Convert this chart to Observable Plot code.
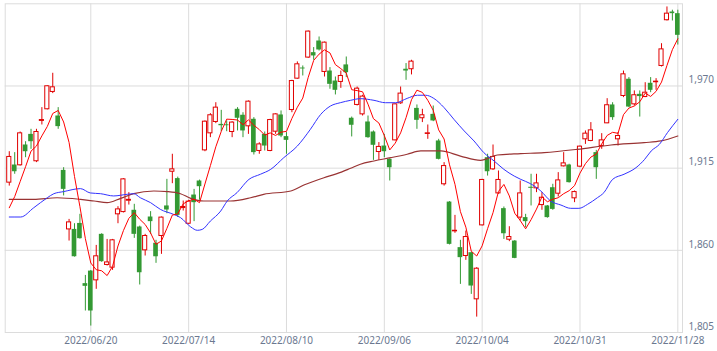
<!DOCTYPE html>
<html>
<head>
<meta charset="utf-8">
<script src="https://cdn.jsdelivr.net/npm/d3@7"></script>
<script src="https://cdn.jsdelivr.net/npm/@observablehq/plot@0.6"></script>
<style>
  html, body { margin: 0; padding: 0; background: #ffffff; }
  #chart svg { display: block; }
</style>
</head>
<body>
<div id="chart"></div>
<script>
// ---- Data ----
// x = trading-day index (0 = first candle)
const tickIndex  = [15, 33, 51, 69, 87, 105, 123];
const tickLabels = ["2022/06/20", "2022/07/14", "2022/08/10", "2022/09/06", "2022/10/04", "2022/10/31", "2022/11/28"];
const yTicks = [1805, 1860, 1915, 1970];

const open = [
  1905.3, 1917.1, 1916.9, 1930.5, 1937.6, 1919.6, 1946.6, 1954.4, 1966.0, 1949.9,
  1913.5, 1874.0, 1874.0, 1878.0, 1837.7, 1846.1, 1839.9, 1870.7, 1850.2, 1848.4,
  1884.1, 1885.6, 1893.2, 1886.8, 1875.6, 1860.0, 1882.3, 1864.7, 1869.6, 1889.7,
  1912.6, 1908.0, 1888.3, 1877.8, 1897.0, 1906.4, 1926.9, 1938.3, 1945.9, 1944.3,
  1944.0, 1939.2, 1954.4, 1950.4, 1943.0, 1947.7, 1926.5, 1937.6, 1926.5, 1939.4,
  1950.6, 1936.1, 1953.9, 1974.9, 1982.0, 1989.0, 1992.3, 2000.1, 1979.4, 1980.0,
  1973.3, 1972.7, 1984.1, 1948.4, 1957.3, 1951.0, 1945.9, 1939.2, 1925.8, 1929.8,
  1920.9, 1933.6, 1958.4, 1981.2, 1981.2, 1955.0, 1948.4, 1937.9, 1951.0, 1933.2,
  1904.2, 1892.3, 1872.7, 1861.8, 1856.2, 1858.4, 1827.2, 1876.7, 1922.0, 1914.2,
  1898.1, 1887.9, 1867.1, 1866.2, 1881.9, 1881.9, 1902.2, 1901.5, 1890.3, 1889.7,
  1901.9, 1897.9, 1916.2, 1917.1, 1894.8, 1916.0, 1934.3, 1933.2, 1925.4, 1929.8,
  1945.0, 1957.3, 1934.3, 1963.3, 1974.5, 1957.7, 1964.4, 1962.6, 1971.8, 1972.5,
  1983.4, 2014.0, 2019.5, 2018.4
];
const high = [
  1926.0, 1925.4, 1939.2, 1932.7, 1941.0, 1941.0, 1955.5, 1970.1, 1978.5, 1955.5,
  1915.3, 1880.7, 1877.8, 1884.1, 1843.2, 1846.5, 1863.3, 1871.1, 1867.3, 1867.3,
  1889.2, 1908.0, 1898.6, 1890.8, 1876.2, 1870.7, 1885.9, 1866.7, 1882.3, 1907.5,
  1924.3, 1909.0, 1893.0, 1893.5, 1900.8, 1907.0, 1946.6, 1951.5, 1958.8, 1953.7,
  1946.6, 1946.1, 1955.5, 1952.1, 1960.0, 1948.8, 1932.0, 1939.2, 1947.7, 1951.4,
  1953.3, 1938.8, 1973.8, 1986.1, 1983.4, 2006.8, 1995.7, 2002.8, 1999.4, 1982.3,
  1976.0, 1980.0, 1989.4, 1949.2, 1969.3, 1963.8, 1949.9, 1939.9, 1932.1, 1937.6,
  1921.3, 1958.0, 1969.3, 1985.0, 1987.2, 1957.3, 1954.4, 1943.9, 1956.6, 1934.3,
  1918.7, 1892.6, 1883.4, 1866.7, 1872.9, 1858.8, 1848.4, 1907.5, 1924.3, 1930.5,
  1913.1, 1889.0, 1875.8, 1866.5, 1906.4, 1884.1, 1910.9, 1910.9, 1898.6, 1890.0,
  1904.2, 1912.0, 1925.4, 1917.6, 1899.7, 1929.8, 1939.9, 1945.5, 1926.9, 1938.1,
  1961.5, 1958.8, 1938.8, 1980.0, 1975.6, 1966.7, 1966.7, 1972.2, 1975.6, 1974.9,
  1998.3, 2022.9, 2020.7, 2020.7
];
const low = [
  1903.0, 1910.9, 1916.4, 1922.0, 1927.6, 1918.7, 1943.9, 1954.0, 1964.9, 1941.0,
  1896.4, 1866.2, 1855.5, 1867.5, 1819.4, 1809.3, 1833.9, 1852.0, 1849.5, 1846.6,
  1877.8, 1885.0, 1890.3, 1868.0, 1836.8, 1856.2, 1870.7, 1851.3, 1857.3, 1884.5,
  1904.6, 1882.0, 1886.3, 1877.4, 1879.2, 1893.5, 1926.0, 1935.4, 1944.8, 1939.4,
  1939.4, 1935.4, 1939.9, 1935.4, 1937.6, 1923.8, 1924.3, 1926.5, 1926.0, 1937.6,
  1935.4, 1924.3, 1952.1, 1974.5, 1976.7, 1988.5, 1987.2, 1993.4, 1976.0, 1967.8,
  1964.0, 1968.4, 1975.6, 1935.9, 1956.6, 1949.9, 1935.0, 1920.2, 1920.2, 1922.0,
  1906.4, 1933.2, 1957.7, 1973.8, 1977.4, 1941.0, 1945.5, 1934.3, 1946.1, 1920.5,
  1903.0, 1863.6, 1871.4, 1837.2, 1853.3, 1830.5, 1815.3, 1876.3, 1909.7, 1913.5,
  1897.5, 1867.3, 1865.8, 1854.4, 1879.6, 1875.2, 1889.7, 1898.6, 1886.8, 1881.5,
  1886.8, 1895.7, 1915.8, 1905.0, 1891.9, 1915.3, 1930.9, 1932.7, 1907.5, 1927.6,
  1944.8, 1947.0, 1929.8, 1962.2, 1955.5, 1956.6, 1949.2, 1962.2, 1965.5, 1967.1,
  1982.7, 2013.5, 2013.5, 1997.4
];
const close = [
  1922.5, 1912.6, 1938.3, 1926.0, 1932.7, 1939.2, 1947.2, 1969.8, 1969.1, 1942.8,
  1900.8, 1878.7, 1855.7, 1867.8, 1835.9, 1819.4, 1856.0, 1852.4, 1851.9, 1866.7,
  1887.4, 1907.5, 1893.8, 1870.7, 1845.0, 1869.6, 1879.2, 1855.7, 1881.9, 1887.0,
  1914.2, 1883.4, 1889.0, 1892.6, 1891.9, 1902.6, 1946.1, 1950.4, 1955.5, 1943.4,
  1943.4, 1945.5, 1948.4, 1939.9, 1959.5, 1925.4, 1930.9, 1929.8, 1947.2, 1951.0,
  1936.5, 1933.6, 1973.3, 1984.5, 1981.4, 2006.4, 1990.1, 1994.1, 1999.0, 1971.1,
  1967.1, 1976.7, 1978.9, 1943.7, 1968.2, 1962.9, 1935.4, 1930.3, 1929.2, 1926.0,
  1915.3, 1957.7, 1964.9, 1980.0, 1986.3, 1947.0, 1950.4, 1938.3, 1946.6, 1920.9,
  1916.4, 1864.0, 1873.1, 1855.1, 1868.9, 1836.1, 1847.7, 1907.1, 1912.6, 1922.5,
  1907.1, 1871.1, 1868.9, 1854.6, 1898.1, 1879.2, 1901.5, 1904.8, 1895.2, 1881.9,
  1887.4, 1906.8, 1918.2, 1905.3, 1899.0, 1929.4, 1938.1, 1940.3, 1915.3, 1933.6,
  1957.1, 1948.8, 1936.5, 1977.8, 1955.9, 1963.8, 1962.9, 1965.5, 1967.1, 1972.9,
  1994.5, 2018.4, 2018.4, 2003.9
];

// short moving average (red), one value per candle
const maShort = [
  1888.5, 1896.0, 1906.0, 1916.0, 1926.4, 1929.8, 1936.6, 1942.9, 1951.6, 1953.6,
  1945.9, 1932.2, 1909.4, 1889.2, 1867.8, 1851.5, 1847.0, 1846.3, 1843.1, 1849.3,
  1862.9, 1873.2, 1881.4, 1885.2, 1880.8, 1877.3, 1871.6, 1864.0, 1866.3, 1874.7,
  1883.6, 1884.4, 1891.1, 1893.2, 1894.2, 1891.9, 1904.4, 1916.7, 1929.3, 1939.6,
  1947.8, 1947.6, 1947.2, 1944.1, 1947.3, 1943.7, 1940.8, 1937.1, 1938.6, 1936.9,
  1939.1, 1939.6, 1948.3, 1955.8, 1961.9, 1975.8, 1987.1, 1991.3, 1994.2, 1992.1,
  1984.3, 1981.6, 1978.6, 1967.5, 1966.9, 1966.1, 1957.8, 1948.1, 1945.2, 1936.8,
  1927.2, 1931.7, 1938.6, 1948.8, 1960.8, 1967.2, 1965.7, 1960.4, 1953.7, 1940.6,
  1934.5, 1917.2, 1904.2, 1885.9, 1875.5, 1859.4, 1856.2, 1863.0, 1874.5, 1885.2,
  1899.4, 1904.1, 1896.4, 1884.8, 1880.0, 1874.4, 1880.5, 1887.6, 1895.8, 1892.5,
  1894.2, 1895.2, 1897.9, 1899.9, 1903.3, 1911.7, 1918.0, 1922.4, 1924.4, 1931.3,
  1936.9, 1939.0, 1938.3, 1950.8, 1955.2, 1956.6, 1959.4, 1965.2, 1963.0, 1966.4,
  1972.6, 1983.7, 1994.3, 2001.6
];

// medium moving average (blue), sampled points
const maMidX = [0, 2.1, 4.5, 7, 8.2, 10, 13.1, 14.9, 16.8, 19.2, 21.7, 22.9, 24.1, 26, 27.8, 30.2,
  31.5, 33.4, 34.6, 35.5, 37, 38.9, 40.1, 41.9, 44.1, 46.2, 48.1, 50.5, 53, 55.4, 57.3, 59.1, 60.9, 62.8,
  64.6, 67.1, 69.2, 71.1, 73.2, 75.1, 76.6, 78.1, 80, 81.8, 83.7, 85.5, 87.3, 89.2, 91, 92.9,
  94.1, 95.9, 97.8, 99.6, 101.5, 103.3, 104.8, 106.4, 108.2, 109.4, 111, 113.1, 115.3, 116.9, 118.1, 119.6, 121.1, 123];
const maMidY = [1882.3, 1882.3, 1888.5, 1895.2, 1897.9, 1899.3, 1901.3, 1898.4, 1897.9, 1896.4, 1897.5, 1897.9, 1895.2, 1891.9, 1887.4, 1884.1,
  1881.9, 1875.6, 1873.4, 1874.0, 1879.6, 1886.3, 1893.0, 1898.6, 1907.5, 1910.9, 1914.2, 1922.0, 1929.8, 1941.0, 1951.0, 1956.6, 1958.8, 1960.4,
  1961.5, 1960.4, 1958.8, 1958.8, 1961.7, 1963.8, 1963.8, 1961.7, 1955.5, 1947.7, 1939.9, 1933.2, 1925.4, 1919.8, 1914.2, 1909.7,
  1907.5, 1904.6, 1899.7, 1893.0, 1890.3, 1888.1, 1888.1, 1890.8, 1895.2, 1898.6, 1907.5, 1910.9, 1915.3, 1920.9, 1926.5, 1930.9, 1938.8, 1947.7];

// long moving average (dark red), sampled points
const maLongX = [0, 4.5, 8.8, 13.1, 15.6, 18, 20.5, 22.9, 26.6, 29.1,
  31.5, 33.4, 35.8, 40.7, 44.4, 46.8, 51.8, 54.2, 57.9, 60.3, 62.8,
  64.6, 67.1, 70.2, 73.2, 75.7, 79.4, 83, 86.7, 89.8, 94.1,
  98.4, 104.5, 110.7, 116.8, 119.9, 123];
const maLongY = [1894.1, 1894.1, 1895.2, 1894.1, 1893.0, 1891.9, 1894.8, 1897.9, 1899.7, 1899.3,
  1897.9, 1894.8, 1893.0, 1893.0, 1895.2, 1897.5, 1899.7, 1903.7, 1908.6, 1911.3, 1914.9,
  1917.6, 1919.8, 1922.0, 1924.3, 1926.5, 1926.5, 1923.1, 1920.2, 1923.8, 1924.7,
  1925.4, 1927.6, 1930.5, 1932.1, 1933.2, 1936.5];

// ---- Build tables for the library ----
const candles = open.map((o, i) => ({ i, open: o, high: high[i], low: low[i], close: close[i], up: close[i] >= o }));
const upCandles = candles.filter(d => d.up);
const downCandles = candles.filter(d => !d.up);
const shortLine = maShort.map((v, i) => ({ x: i, y: v }));
const midLine = maMidX.map((x, k) => ({ x, y: maMidY[k] }));
const longLine = maLongX.map((x, k) => ({ x, y: maLongY[k] }));
const labelOf = new Map(tickIndex.map((t, k) => [t, tickLabels[k]]));

const RED = "#e00000";
const GREEN = "#339933";
const GRID = "#dcdcdc";

const chart = Plot.plot({
  width: 717,
  height: 351,
  marginLeft: 4.7,
  marginRight: 35,
  marginTop: 3.3,
  marginBottom: 19,
  style: { fontFamily: "'Noto Sans', sans-serif", fontSize: "10px", color: "#6b7890", background: "#ffffff", overflow: "visible" },
  x: { type: "linear", domain: [-0.75, 123.86] },
  y: { domain: [1805, 2025] },
  marks: [
    Plot.gridX(tickIndex, { stroke: GRID, strokeOpacity: 1 }),
    Plot.gridY(yTicks.slice(1), { stroke: GRID, strokeOpacity: 1 }),
    Plot.frame({ stroke: GRID }),
    Plot.ruleX(candles, { x: "i", y1: "low", y2: "high", stroke: d => d.up ? RED : GREEN, strokeWidth: 1 }),
    Plot.rect(downCandles, { x1: d => d.i - 0.43, x2: d => d.i + 0.43, y1: "open", y2: "close", fill: GREEN }),
    Plot.rect(upCandles, { x1: d => d.i - 0.38, x2: d => d.i + 0.38, y1: "open", y2: "close", fill: "#ffffff", stroke: RED, strokeWidth: 1 }),
    Plot.line(longLine, { x: "x", y: "y", stroke: "#993333", strokeWidth: 1.2, curve: "monotone-x" }),
    Plot.line(midLine, { x: "x", y: "y", stroke: "#3333ff", strokeWidth: 1, curve: "monotone-x" }),
    Plot.line(shortLine, { x: "x", y: "y", stroke: "#ff0000", strokeWidth: 1 }),
    Plot.axisX({ ticks: tickIndex, tickFormat: d => labelOf.get(d), tickSize: 0, tickPadding: 4, label: null }),
    Plot.axisY({ anchor: "right", ticks: yTicks, tickFormat: d3.format(","), tickSize: 0, tickPadding: 6, dy: -6, label: null })
  ]
});
document.getElementById("chart").appendChild(chart);
</script>
</body>
</html>
